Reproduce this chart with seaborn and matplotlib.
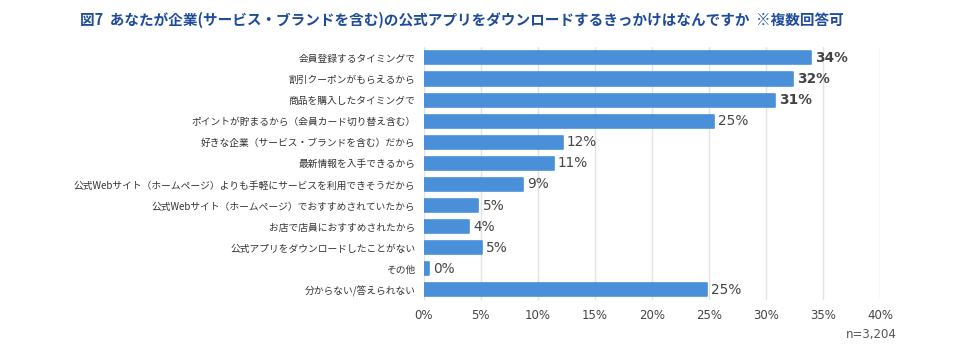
import matplotlib
matplotlib.use("Agg")
import matplotlib.pyplot as plt
import seaborn as sns
import pandas as pd

categories = [
    "会員登録するタイミングで",
    "割引クーポンがもらえるから",
    "商品を購入したタイミングで",
    "ポイントが貯まるから（会員カード切り替え含む）",
    "好きな企業（サービス・ブランドを含む）だから",
    "最新情報を入手できるから",
    "公式Webサイト（ホームページ）よりも手軽にサービスを利用できそうだから",
    "公式Webサイト（ホームページ）でおすすめされていたから",
    "お店で店員におすすめされたから",
    "公式アプリをダウンロードしたことがない",
    "その他",
    "分からない/答えられない",
]
values = [33.9, 32.4, 30.8, 25.4, 12.2, 11.4, 8.7, 4.8, 4.0, 5.1, 0.5, 24.8]
value_labels = ["34%", "32%", "31%", "25%", "12%", "11%", "9%", "5%", "4%", "5%", "0%", "25%"]
xticks = [0, 5, 10, 15, 20, 25, 30, 35, 40]
xtick_labels = ["0%", "5%", "10%", "15%", "20%", "25%", "30%", "35%", "40%"]
title = "図7  あなたが企業(サービス・ブランドを含む)の公式アプリをダウンロードするきっかけはなんですか  ※複数回答可"
note = "n=3,204"

sns.set_theme(style="white")
plt.rcParams["font.family"] = ["Noto Sans CJK JP", "DejaVu Sans"]

df = pd.DataFrame({"cat": categories, "val": values})

fig = plt.figure(figsize=(9.63, 3.51), dpi=100)
ax = fig.add_axes([0.440, 0.144, 0.474, 0.721])

bar_color = "#4a90d9"
sns.barplot(data=df, x="val", y="cat", ax=ax, color=bar_color, width=0.62,
            saturation=1, orient="h")
for p in ax.patches:
    p.set_edgecolor(bar_color)
    p.set_linewidth(1.2)
    p.set_joinstyle("round")

for i, (v, lab) in enumerate(zip(values, value_labels)):
    bold = i < 3
    ax.text(v + 0.35, i, lab, va="center", ha="left", fontsize=9.8,
            family="DejaVu Sans", color="#444444",
            fontweight="bold" if bold else "normal")

ax.set_xlim(0, 40)
ax.set_ylim(len(categories) - 0.5, -0.5)
ax.set_xticks(xticks)
ax.set_xticklabels(xtick_labels, fontsize=8.5, color="#444444", family="DejaVu Sans")
ax.tick_params(axis="y", labelsize=7, colors="#333333", length=0, pad=6)
ax.tick_params(axis="x", length=0, pad=6)
ax.set_xlabel("")
ax.set_ylabel("")
ax.xaxis.grid(True, color="#e3e3e3", linewidth=1)
ax.set_axisbelow(True)
for s in ax.spines.values():
    s.set_visible(False)

fig.text(0.083, 0.943, title, fontsize=10.5, fontweight="bold",
         color="#1e4b9a", ha="left", va="center")
fig.text(0.931, 0.048, note, fontsize=8.5, color="#555555", ha="right", va="center",
         family="DejaVu Sans")

fig.savefig("out.png", dpi=100, facecolor="white")
